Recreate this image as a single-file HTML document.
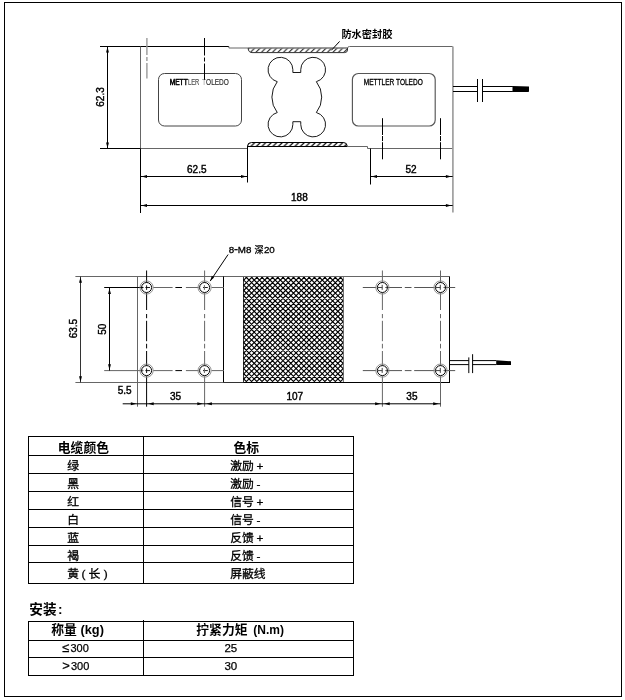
<!DOCTYPE html>
<html lang="zh-CN">
<head>
<meta charset="utf-8">
<title>称重传感器外形尺寸</title>
<style>
html,body{margin:0;padding:0;background:#fff;}
body{width:625px;height:700px;overflow:hidden;position:relative;}
svg{position:absolute;left:0;top:0;display:block;will-change:transform;filter:grayscale(1);}
svg path,svg circle,svg rect{fill:none;}
.k{stroke:#000;stroke-width:1;}
.d{stroke:#333;stroke-width:1;}
.g{stroke:#666;stroke-width:1;}
.t{stroke:#000;stroke-width:0.9;}
.ah polygon{fill:#000;stroke:none;}
text{fill:#000;stroke:none;font-family:"Liberation Sans","Noto Sans CJK SC",sans-serif;}
.dim{font-size:10px;stroke:#000;stroke-width:0.4px;}
.cn{font-size:11.8px;stroke:#000;stroke-width:0.3px;word-spacing:-0.6px;}
.hd{font-size:12.8px;font-weight:bold;}
.mt{font-size:8.2px;stroke:#000;stroke-width:0.3px;}
.nm{font-size:11px;stroke:#000;stroke-width:0.25px;}
.tb{stroke:#000;stroke-width:1;shape-rendering:crispEdges;}
</style>
</head>
<body>
<svg width="625" height="700" viewBox="0 0 625 700">
<defs>
<pattern id="dh" patternUnits="userSpaceOnUse" x="249.8" y="47.5" width="5.5" height="5.5">
<path d="M-1,6.5 L6.5,-1 M-1,1 L1,-1 M4.5,6.5 L6.5,4.5" stroke="#000" stroke-width="0.95" fill="none"/>
</pattern>
<pattern id="dh2" patternUnits="userSpaceOnUse" x="249.8" y="142" width="5.5" height="5.5">
<path d="M-1,6.5 L6.5,-1 M-1,1 L1,-1 M4.5,6.5 L6.5,4.5" stroke="#000" stroke-width="1.15" fill="none"/>
</pattern>
<clipPath id="hc"><rect x="243.2" y="276.5" width="100.2" height="106"/></clipPath>
<filter id="soft" x="-5%" y="-5%" width="110%" height="110%"><feGaussianBlur stdDeviation="0.28"/></filter>
</defs>
<rect x="0" y="0" width="625" height="700" style="fill:#fff"/>
<rect x="4.5" y="2.5" width="617" height="694" class="k" style="shape-rendering:crispEdges"/>

<g id="top-view">
<path d="M248.1,48 H347.5 V50 Q347.5,52.6 344.5,52.6 H252 Q248.4,52.6 248.1,48 Z" style="fill:url(#dh);stroke:none"/>
<path d="M248.1,48 H347.5" class="g" style="stroke:#777;stroke-width:1.3"/>
<path d="M347.5,48 V50 Q347.5,52.6 344.5,52.6 H252 Q248.4,52.6 248.1,48" class="d"/>
<path d="M247.5,146.5 H347.4 Q346.9,142.5 343.7,142.5 H251.5 Q247.5,142.5 247.5,146.5 Z" style="fill:url(#dh2);stroke:none"/>
<path d="M247.5,146.5 H347.4 Q346.9,142.5 343.7,142.5 H251.5 Q247.5,142.5 247.5,146.5 Z" class="k"/>
<path d="M100,46.5 H228.9" class="k"/>
<path d="M228.9,46.5 V48 H248.1" class="g"/>
<path d="M347.5,48 Q347.8,46.5 349.5,46.5 H452.7" class="g"/>
<path d="M140.5,46.5 V148.5" class="g"/>
<path d="M140.5,148.5 H248" class="g"/>
<path d="M347.4,146.5 H367.5 V148.5 H452.7" class="g"/>
<path d="M100,148.5 H140.5" class="k"/>
<path d="M140.5,148.5 V213" class="k"/>
<path d="M452.9,46.5 V212.5" class="g" style="stroke:#999;stroke-width:1.6"/>
<path d="M247.5,145.7 V182.5" class="k"/>
<path d="M370.5,148.5 V184.5" class="k"/>
<rect x="158.5" y="73.5" width="83" height="52.5" rx="6" ry="6" class="d" style="stroke:#444"/>
<rect x="352.4" y="73.5" width="82.8" height="52.5" rx="6" ry="6" class="d" style="stroke:#555;stroke-width:1.15"/>
<text class="mt" y="84.9"><tspan x="169.7" textLength="18" lengthAdjust="spacingAndGlyphs" style="stroke-width:0.55px">METT</tspan><tspan x="187.9" textLength="11.4" lengthAdjust="spacingAndGlyphs" style="fill:#555;stroke:#555;stroke-width:0.2px">LER</tspan> <tspan x="201.9" textLength="4.2" lengthAdjust="spacingAndGlyphs" style="fill:#999;stroke:none">T</tspan><tspan x="206.1" textLength="22.8" lengthAdjust="spacingAndGlyphs" style="fill:#333;stroke:#333;stroke-width:0.2px">OLEDO</tspan></text>
<text class="mt" x="363.8" y="85.1" textLength="59" lengthAdjust="spacingAndGlyphs">METTLER TOLEDO</text>
<path d="M292.85,72.50 V69.70 A12.40,12.40 0 1 0 277.25,81.68 A24.90,24.90 0 0 0 277.25,112.52 A12.40,12.40 0 1 0 292.85,124.50 V121.70 H300.75 V124.50 A12.40,12.40 0 1 0 316.35,112.52 A24.90,24.90 0 0 0 316.35,81.68 A12.40,12.40 0 1 0 300.75,69.70 V72.50 Z" class="t"/>
<path d="M146.9,38 V55 M146.9,57 V61 M146.9,63 V78.5" class="g" style="stroke:#999;stroke-width:1.4"/>
<path d="M204.5,38 V55.5 M204.5,57.5 V61.5 M204.5,63.5 V79.8" class="k"/>
<path d="M382.5,118.2 V135 M382.5,136 V141.1 M382.5,142.2 V159.3" class="k"/>
<path d="M440.5,118.2 V135 M440.5,136 V141.1 M440.5,142.2 V159.3" class="k"/>
<path d="M453,86.5 H477.5 M482.5,86.5 H512.9 M453,91.5 H477.5 M482.5,91.5 H512.9" class="k"/>
<path d="M477.5,79 V102 M482.5,79 V102" class="k"/>
<path d="M512.5,86 L529,86.6 V91.4 L528.3,92 H512.5 Z" style="fill:#000;stroke:none"/>
<path d="M339.6,41.4 L331.4,50.3" class="k"/>
<text x="341.4" y="37.6" style="font-size:10.2px;font-weight:bold">防水密封胶</text>
<path d="M107.5,46.5 V148.5" class="k"/>
<g class="ah"><polygon points="107.50,47.00 106.05,52.50 108.95,52.50"/><polygon points="107.50,148.00 106.05,142.50 108.95,142.50"/></g>
<text class="dim" transform="translate(104.3,97) rotate(-90)" text-anchor="middle">62.3</text>
<path d="M140.5,176.5 H247.5" class="k"/>
<g class="ah"><polygon points="141.50,176.50 147.00,175.05 147.00,177.95"/><polygon points="246.50,176.50 241.00,175.05 241.00,177.95"/></g>
<text class="dim" x="196.8" y="172.7" text-anchor="middle">62.5</text>
<path d="M370.5,176.5 H452.7" class="k"/>
<g class="ah"><polygon points="371.50,176.50 377.00,175.05 377.00,177.95"/><polygon points="451.40,176.50 445.90,175.05 445.90,177.95"/></g>
<text class="dim" x="411.1" y="172.7" text-anchor="middle">52</text>
<path d="M140.5,205.5 H452.7" class="k"/>
<g class="ah"><polygon points="141.50,205.50 147.00,204.05 147.00,206.95"/><polygon points="451.40,205.50 445.90,204.05 445.90,206.95"/></g>
<text class="dim" x="299.4" y="200.8" text-anchor="middle">188</text>
</g>
<g id="plan-view">
<g clip-path="url(#hc)"><path transform="translate(0,276.5) scale(1,0.995) translate(0,-276.5)" d="M243.20,378.96L247.74,383.50M243.20,373.73L252.97,383.50M243.20,368.50L258.20,383.50M243.20,363.26L263.44,383.50M243.20,358.03L268.67,383.50M243.20,352.80L273.90,383.50M243.20,347.57L279.13,383.50M243.20,342.34L284.36,383.50M243.20,337.10L289.60,383.50M243.20,331.87L294.83,383.50M243.20,326.64L300.06,383.50M243.20,321.41L305.29,383.50M243.20,316.18L310.52,383.50M243.20,310.94L315.76,383.50M243.20,305.71L320.99,383.50M243.20,300.48L326.22,383.50M243.20,295.25L331.45,383.50M243.20,290.02L336.68,383.50M243.20,284.78L341.92,383.50M243.20,279.55L343.40,379.75M245.38,276.50L343.40,374.52M250.61,276.50L343.40,369.29M255.84,276.50L343.40,364.06M261.08,276.50L343.40,358.82M266.31,276.50L343.40,353.59M271.54,276.50L343.40,348.36M276.77,276.50L343.40,343.13M282.00,276.50L343.40,337.90M287.24,276.50L343.40,332.66M292.47,276.50L343.40,327.43M297.70,276.50L343.40,322.20M302.93,276.50L343.40,316.97M308.16,276.50L343.40,311.74M313.40,276.50L343.40,306.50M318.63,276.50L343.40,301.27M323.86,276.50L343.40,296.04M329.09,276.50L343.40,290.81M334.32,276.50L343.40,285.58M339.56,276.50L343.40,280.34M247.31,276.50L243.20,280.61M252.54,276.50L243.20,285.84M257.77,276.50L243.20,291.07M263.00,276.50L243.20,296.30M268.24,276.50L243.20,301.54M273.47,276.50L243.20,306.77M278.70,276.50L243.20,312.00M283.93,276.50L243.20,317.23M289.16,276.50L243.20,322.46M294.40,276.50L243.20,327.70M299.63,276.50L243.20,332.93M304.86,276.50L243.20,338.16M310.09,276.50L243.20,343.39M315.32,276.50L243.20,348.62M320.56,276.50L243.20,353.86M325.79,276.50L243.20,359.09M331.02,276.50L243.20,364.32M336.25,276.50L243.20,369.55M341.48,276.50L243.20,374.78M343.40,279.82L243.20,380.02M343.40,285.05L244.95,383.50M343.40,290.28L250.18,383.50M343.40,295.51L255.41,383.50M343.40,300.74L260.64,383.50M343.40,305.98L265.88,383.50M343.40,311.21L271.11,383.50M343.40,316.44L276.34,383.50M343.40,321.67L281.57,383.50M343.40,326.90L286.80,383.50M343.40,332.14L292.04,383.50M343.40,337.37L297.27,383.50M343.40,342.60L302.50,383.50M343.40,347.83L307.73,383.50M343.40,353.06L312.96,383.50M343.40,358.30L318.20,383.50M343.40,363.53L323.43,383.50M343.40,368.76L328.66,383.50M343.40,373.99L333.89,383.50M343.40,379.22L339.12,383.50" style="stroke:#000;stroke-width:1.15;stroke-linecap:square" filter="url(#soft)"/></g>
<path d="M343.4,276.5 V382.5" class="g" style="stroke:#555;stroke-width:0.9"/>
<path d="M243.50,276.5 V382.5" class="k" style="stroke-width:0.8"/>
<path d="M75.4,276.5 H449.5" class="g"/>
<path d="M75.4,382.5 H223.5" class="g"/>
<path d="M223.5,382.5 H243.2" class="d"/>
<path d="M243.2,382.5 H450.0" class="k" style="stroke-width:1.1"/>
<path d="M137.5,276.5 V406.7" class="g"/>
<path d="M449.5,276.5 V382.5" class="k"/>
<path d="M223.5,276.5 V382.5" class="k"/>
<path d="M104.2,287.5 H143.5" class="k"/>
<path d="M153.2,287.5 H172.6 M185.9,287.5 H198.7 M211.5,287.5 H223.9" class="g"/>
<path d="M175.4,287.5 H182" class="k"/>
<path d="M362.8,287.5 H376.2 M385.3,287.5 H402 M404.8,287.5 H411.5 M414.2,287.5 H434.7 M443.5,287.5 H455.2" class="d" style="stroke:#555"/>
<path d="M104.2,370.6 H143.5" class="g"/>
<path d="M153.2,370.6 H172.6 M185.9,370.6 H198.7 M211.5,370.6 H223.9" class="g"/>
<path d="M175.4,370.6 H182" class="k"/>
<path d="M362.8,370.6 H376.2 M385.3,370.6 H402 M404.8,370.6 H411.5 M414.2,370.6 H434.7 M443.5,370.6 H455.2" class="d" style="stroke:#555"/>
<path d="M146.6,270.5 V282.6 M146.6,292.8 V310 M146.6,314 V318.2 M146.6,320.8 V341.2 M146.6,343.8 V348.4 M146.6,351 V365.7 M146.6,376.2 V406.7" class="k"/>
<path d="M204.6,270.5 V282.6 M204.6,292.8 V310 M204.6,314 V318.2 M204.6,320.8 V341.2 M204.6,343.8 V348.4 M204.6,351 V365.7 M204.6,376.2 V406.7" class="g"/>
<path d="M382.4,270.5 V282.6 M382.4,292.8 V310 M382.4,314 V318.2 M382.4,320.8 V341.2 M382.4,343.8 V348.4 M382.4,351 V365.7 M382.4,376.2 V406.7" class="g"/>
<path d="M440.5,270.5 V282.6 M440.5,292.8 V310 M440.5,314 V318.2 M440.5,320.8 V341.2 M440.5,343.8 V348.4 M440.5,351 V365.7 M440.5,376.2 V406.7" class="g"/>
<circle cx="146.60" cy="287.50" r="6.6" class="g" style="stroke:#888;stroke-width:0.9"/><circle cx="146.60" cy="287.50" r="5" class="k" style="stroke-width:1"/><path d="M145.40,287.50 h4.6 M146.60,285.30 v4.6" class="k" style="stroke-width:0.9"/>
<circle cx="146.60" cy="370.60" r="6.6" class="g" style="stroke:#888;stroke-width:0.9"/><circle cx="146.60" cy="370.60" r="5" class="k" style="stroke-width:1"/><path d="M145.40,370.60 h4.6 M146.60,368.40 v4.6" class="k" style="stroke-width:0.9"/>
<circle cx="204.60" cy="287.50" r="6.6" class="g" style="stroke:#888;stroke-width:0.9"/><circle cx="204.60" cy="287.50" r="5" class="k" style="stroke-width:1"/><path d="M203.00,287.50 h4.8" class="k" style="stroke-width:0.9"/><path d="M204.40,285.10 v4.8" class="g"/>
<circle cx="204.60" cy="370.60" r="6.6" class="g" style="stroke:#888;stroke-width:0.9"/><circle cx="204.60" cy="370.60" r="5" class="k" style="stroke-width:1"/><path d="M203.00,370.60 h4.8" class="k" style="stroke-width:0.9"/><path d="M204.40,368.20 v4.8" class="g"/>
<circle cx="382.40" cy="287.50" r="6.6" class="g" style="stroke:#888;stroke-width:0.9"/><circle cx="382.40" cy="287.50" r="5" class="k" style="stroke-width:1"/><path d="M377.40,287.50 H382.40 M382.20,284.80 v5" class="d" style="stroke:#444"/>
<circle cx="382.40" cy="370.60" r="6.6" class="g" style="stroke:#888;stroke-width:0.9"/><circle cx="382.40" cy="370.60" r="5" class="k" style="stroke-width:1"/><path d="M377.40,370.60 H382.40 M382.20,367.90 v5" class="d" style="stroke:#444"/>
<circle cx="440.50" cy="287.50" r="6.6" class="g" style="stroke:#888;stroke-width:0.9"/><circle cx="440.50" cy="287.50" r="5" class="k" style="stroke-width:1"/><path d="M435.50,287.50 H440.50 M440.30,284.80 v5" class="d" style="stroke:#444"/>
<circle cx="440.50" cy="370.60" r="6.6" class="g" style="stroke:#888;stroke-width:0.9"/><circle cx="440.50" cy="370.60" r="5" class="k" style="stroke-width:1"/><path d="M435.50,370.60 H440.50 M440.30,367.90 v5" class="d" style="stroke:#444"/>
<path d="M450,360.6 H468.8 M472.6,360.6 H496.2 M450,364.6 H468.8 M472.6,364.6 H496.2" class="k"/>
<path d="M468.8,357.4 V373.1 M472.6,354.2 V373.1" class="k"/>
<path d="M496.2,360.2 L511,361.2 V365.1 H496.2 Z" style="fill:#000;stroke:none"/>
<path d="M228.1,254.5 L210.2,281.1" class="k"/>
<g class="ah"><polygon points="210.2,281.1 211.8,275.8 214.1,277.4"/></g>
<text x="228.8" y="253" style="font-size:9.8px;stroke:#000;stroke-width:0.3px">8<tspan dx="-0.3" style="font-size:12px">-</tspan><tspan dx="-0.2">M8</tspan> <tspan dx="0.5" style="font-size:9px;stroke-width:0.3px">深</tspan><tspan dx="0.3">20</tspan></text>
<path d="M80.5,276.5 V382.5" class="d"/>
<g class="ah"><polygon points="80.50,277.30 79.05,282.80 81.95,282.80"/><polygon points="80.50,381.70 79.05,376.20 81.95,376.20"/></g>
<text class="dim" transform="translate(76.6,328.6) rotate(-90)" text-anchor="middle">63.5</text>
<path d="M109.5,287.5 V370.6" class="k"/>
<g class="ah"><polygon points="109.50,288.40 108.05,293.90 110.95,293.90"/><polygon points="109.50,369.80 108.05,364.30 110.95,364.30"/></g>
<text class="dim" transform="translate(105.8,329.2) rotate(-90)" text-anchor="middle">50</text>
<path d="M122.7,403.8 H440.5" class="k"/>
<g class="ah"><polygon points="136.30,403.80 130.80,402.35 130.80,405.25"/><polygon points="148.20,403.80 153.70,402.35 153.70,405.25"/><polygon points="202.80,403.80 197.30,402.35 197.30,405.25"/><polygon points="206.40,403.80 211.90,402.35 211.90,405.25"/><polygon points="380.60,403.80 375.10,402.35 375.10,405.25"/><polygon points="384.20,403.80 389.70,402.35 389.70,405.25"/><polygon points="438.70,403.80 433.20,402.35 433.20,405.25"/></g>
<text class="dim" x="124.7" y="393.6" text-anchor="middle">5.5</text>
<text class="dim" x="175.5" y="399.6" text-anchor="middle">35</text>
<text class="dim" x="294.8" y="399.6" text-anchor="middle">107</text>
<text class="dim" x="411.9" y="399.6" text-anchor="middle">35</text>
</g>
<g id="table-cable">
<path d="M28,436.5 H354" class="tb"/>
<path d="M28,455.2 H354" class="tb"/>
<path d="M28,473.3 H354" class="tb"/>
<path d="M28,491.3 H354" class="tb"/>
<path d="M28,509.3 H354" class="tb"/>
<path d="M28,527.3 H354" class="tb"/>
<path d="M28,545.4 H354" class="tb"/>
<path d="M28,562.8 H354" class="tb"/>
<path d="M28,583.5 H354" class="tb"/>
<path d="M28.5,436.5 V583.5" class="tb"/>
<path d="M143.5,436.5 V583.5" class="tb"/>
<path d="M353.5,436.5 V583.5" class="tb"/>
<text class="hd" x="57.8" y="451.5">电缆颜色</text>
<text class="hd" x="233.5" y="451.5">色标</text>
<text class="cn" x="67.3" y="469.6">绿</text>
<text class="cn" x="230.2" y="469.6">激励 +</text>
<text class="cn" x="67.3" y="487.7">黑</text>
<text class="cn" x="230.2" y="487.7">激励 -</text>
<text class="cn" x="67.3" y="505.7">红</text>
<text class="cn" x="230.2" y="505.7">信号 +</text>
<text class="cn" x="67.3" y="523.7">白</text>
<text class="cn" x="230.2" y="523.7">信号 -</text>
<text class="cn" x="67.3" y="541.7">蓝</text>
<text class="cn" x="230.2" y="541.7">反馈 +</text>
<text class="cn" x="67.3" y="559.8">褐</text>
<text class="cn" x="230.2" y="559.8">反馈 -</text>
<text class="cn" x="67.3 81.4 88.4 103.7" y="578.0">黄(长)</text>
<text class="cn" x="230.2" y="578.0">屏蔽线</text>
</g>
<text class="hd" x="29.3 43 57.9" y="614" style="font-size:13.6px">安装:</text>
<g id="table-torque">
<path d="M28,621.2 H354" class="tb"/>
<path d="M28,640.3 H354" class="tb"/>
<path d="M28,657.4 H354" class="tb"/>
<path d="M28,675.5 H354" class="tb"/>
<path d="M28.5,621.2 V675.5" class="tb"/>
<path d="M143.5,620.2 V675.5" class="tb"/>
<path d="M353.5,621.2 V675.5" class="tb"/>
<text class="hd" x="51.3" y="634.4">称量 (kg)</text>
<text class="hd" x="196.3" y="634.4">拧紧力矩 <tspan dx="2.2" style="font-size:12px">(N.m)</tspan></text>
<text class="nm" x="61.9" y="652.2"><tspan style="font-size:13px">≤</tspan><tspan x="70.5">300</tspan></text>
<text class="nm" x="62.2" y="670.3"><tspan style="font-size:13px">&gt;</tspan><tspan x="70.9" y="670">300</tspan></text>
<text class="nm" x="224.4" y="651.9" style="font-size:11.5px">25</text>
<text class="nm" x="224.4" y="669.7" style="font-size:11.5px">30</text>
</g>
</svg>
</body>
</html>
